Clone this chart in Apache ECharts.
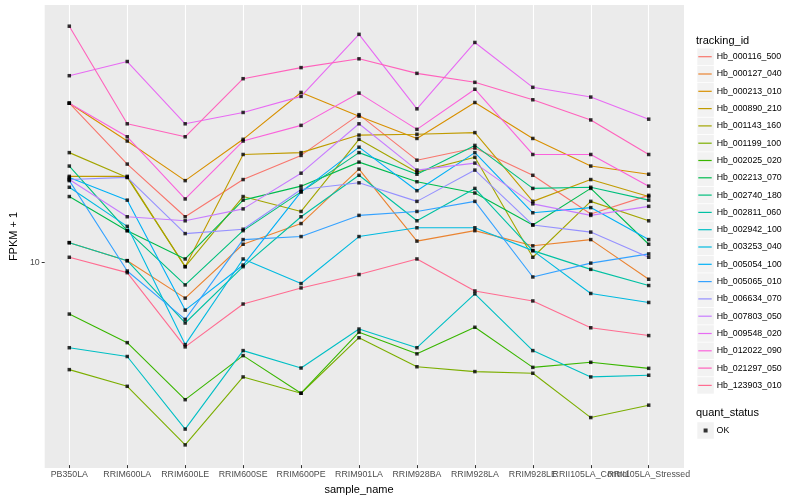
<!DOCTYPE html>
<html><head><meta charset="utf-8">
<script src="https://cdn.jsdelivr.net/npm/echarts@6/dist/echarts.min.js"></script>
<style>html,body{margin:0;padding:0;background:#fff}#c{width:800px;height:500px}</style>
</head><body><div id="c"></div>
<script>
const categories = ['PB350LA','RRIM600LA','RRIM600LE','RRIM600SE','RRIM600PE','RRIM901LA','RRIM928BA','RRIM928LA','RRIM928LE','RRII105LA_Control','RRII105LA_Stressed'];
const trackingIds = ['Hb_000116_500','Hb_000127_040','Hb_000213_010','Hb_000890_210','Hb_001143_160','Hb_001199_100','Hb_002025_020','Hb_002213_070','Hb_002740_180','Hb_002811_060','Hb_002942_100','Hb_003253_040','Hb_005054_100','Hb_005065_010','Hb_006634_070','Hb_007803_050','Hb_009548_020','Hb_012022_090','Hb_021297_050','Hb_123903_010'];
const palette = ['#F8766D','#EA8331','#D89000','#C09B00','#A3A500','#7CAE00','#39B600','#00BB4E','#00BF7D','#00C1A3','#00BFC4','#00BAE0','#00B0F6','#35A2FF','#9590FF','#C77CFF','#E76BF3','#FA62DB','#FF62BC','#FF6C91'];
const yTickValues = [10];

const Hb_000116_500 = [24.9, 17.5, 12.9, 16.0, 18.4, 23.3, 17.9, 19.2, 16.4, 13.1, 14.6];
const Hb_000127_040 = [11.1, 10.0, 8.05, 11.0, 12.4, 17.0, 11.2, 11.9, 10.9, 11.3, 8.98];
const Hb_000213_010 = [24.9, 20.0, 15.9, 20.2, 26.5, 23.1, 20.3, 25.0, 20.3, 17.3, 16.5];
const Hb_000890_210 = [16.3, 16.3, 9.66, 18.5, 18.7, 20.7, 20.8, 21.0, 14.1, 16.0, 14.5];
const Hb_001143_160 = [18.7, 16.2, 9.66, 14.5, 13.3, 20.2, 16.7, 18.2, 10.2, 14.1, 12.6];
const Hb_001199_100 = [5.32, 4.83, 3.44, 5.10, 4.64, 6.40, 5.41, 5.26, 5.21, 4.03, 4.33];
const Hb_002025_020 = [7.34, 6.22, 4.47, 5.77, 4.64, 6.61, 5.83, 6.80, 5.39, 5.55, 5.36];
const Hb_002213_070 = [14.5, 11.9, 10.1, 14.2, 15.4, 17.7, 15.8, 14.8, 12.3, 15.2, 11.0];
const Hb_002740_180 = [17.3, 11.9, 8.69, 11.9, 14.9, 18.7, 16.5, 19.5, 15.2, 15.3, 14.2];
const Hb_002811_060 = [11.1, 10.0, 6.97, 9.66, 12.9, 16.4, 12.6, 15.2, 10.6, 9.51, 8.66];
const Hb_002942_100 = [6.04, 5.74, 3.77, 5.94, 5.37, 6.73, 6.04, 8.25, 5.94, 5.10, 5.15];
const Hb_003253_040 = [15.3, 12.2, 6.15, 10.1, 8.76, 11.5, 12.1, 12.1, 10.6, 8.27, 7.85];
const Hb_005054_100 = [16.2, 14.2, 7.51, 9.75, 14.9, 19.3, 15.0, 18.7, 13.2, 13.6, 11.3];
const Hb_005065_010 = [15.9, 9.42, 7.12, 11.3, 11.5, 13.0, 13.3, 14.1, 9.10, 9.86, 10.4];
const Hb_006634_070 = [16.0, 16.2, 11.7, 12.0, 15.1, 15.7, 14.1, 16.9, 12.3, 11.8, 10.2];
const Hb_007803_050 = [16.0, 12.9, 12.6, 13.5, 16.6, 22.1, 16.9, 17.6, 13.9, 13.0, 13.7];
const Hb_009548_020 = [29.2, 31.7, 22.1, 23.6, 25.9, 37.1, 24.1, 35.4, 27.3, 25.8, 22.7];
const Hb_012022_090 = [24.9, 20.5, 14.3, 20.0, 21.9, 26.4, 21.4, 27.0, 18.5, 18.5, 15.4];
const Hb_021297_050 = [38.9, 22.1, 20.5, 28.7, 30.6, 32.2, 29.6, 28.1, 25.4, 22.6, 18.5];
const Hb_123903_010 = [10.2, 9.33, 6.07, 7.78, 8.54, 9.23, 10.1, 8.39, 7.92, 6.78, 6.48];

const seriesValues = [Hb_000116_500, Hb_000127_040, Hb_000213_010, Hb_000890_210, Hb_001143_160, Hb_001199_100, Hb_002025_020, Hb_002213_070, Hb_002740_180, Hb_002811_060, Hb_002942_100, Hb_003253_040, Hb_005054_100, Hb_005065_010, Hb_006634_070, Hb_007803_050, Hb_009548_020, Hb_012022_090, Hb_021297_050, Hb_123903_010];

const FONT = '"Liberation Sans", Arial, Helvetica, sans-serif';
const Y_MIN = 3.06, Y_MAX = 43.98;
const allIdx = categories.map((c, i) => i);
const labelIdxEven = allIdx.filter(i => i % 2 === 0);
const labelIdxOdd = allIdx.filter(i => i % 2 === 1);

const chart = echarts.init(document.getElementById('c'), null, {renderer: 'canvas'});

const lineSeries = trackingIds.map((id, k) => ({
  name: id,
  type: 'line',
  xAxisIndex: 1, yAxisIndex: 1,
  data: seriesValues[k].map((v, i) => [i, v]),
  symbol: 'none', showSymbol: false,
  color: palette[k],
  lineStyle: {width: 1.1, color: palette[k]},
  emphasis: {disabled: true},
  animation: false, z: 2
}));

const pointData = [];
seriesValues.forEach(arr => arr.forEach((v, i) => pointData.push([i, v])));

const keyRects = [];
const legendTop = 48.05, itemH = 17.3;
trackingIds.forEach((id, i) => {
  keyRects.push({type: 'rect', z: 1, silent: true,
    shape: {x: 697.3, y: legendTop + i * itemH + 0.4, width: 16.5, height: 16.5},
    style: {fill: '#F2F2F2'}});
});
keyRects.push({type: 'rect', z: 1, silent: true,
  shape: {x: 697.3, y: 421.85 + 0.4, width: 16.5, height: 16.5}, style: {fill: '#F2F2F2'}});

const xLabelStyle = {formatter: v => categories[v] || '', color: '#4D4D4D', fontSize: 8.8, margin: 5, fontFamily: FONT, hideOverlap: false, showMinLabel: true, showMaxLabel: true};

const option = {
  backgroundColor: '#fff',
  animation: false,
  textStyle: {fontFamily: FONT},
  grid: [
    {left: 35, right: 116, top: 5, bottom: 32, show: true, backgroundColor: '#EBEBEB', borderWidth: 0, containLabel: false},
    {left: 69.3, right: 151.3, top: 5, bottom: 32, show: false, containLabel: false}
  ],
  xAxis: [
    {gridIndex: 0, type: 'value', min: 0, max: 1, show: false},
    {gridIndex: 1, type: 'value', min: 0, max: 10, interval: 1, position: 'bottom',
      axisLine: {show: false},
      axisTick: {show: true, length: 3, lineStyle: {color: '#333333', width: 1}},
      axisLabel: Object.assign({}, xLabelStyle, {customValues: labelIdxEven}),
      splitLine: {show: true, lineStyle: {color: '#FFFFFF', width: 1.1}},
      name: 'sample_name', nameLocation: 'middle', nameGap: 15,
      nameTextStyle: {color: '#000', fontSize: 11, fontFamily: FONT}
    },
    {gridIndex: 1, type: 'value', min: 0, max: 10, interval: 1, position: 'bottom', offset: 0,
      axisLine: {show: false}, axisTick: {show: false}, splitLine: {show: false},
      axisLabel: Object.assign({}, xLabelStyle, {customValues: labelIdxOdd})
    }
  ],
  yAxis: [
    {gridIndex: 0, type: 'log', logBase: 10, min: Y_MIN, max: Y_MAX,
      axisLine: {show: false},
      axisTick: {show: true, length: 3, lineStyle: {color: '#333333', width: 1}, customValues: yTickValues},
      axisLabel: {customValues: yTickValues, formatter: v => String(Math.round(v)), color: '#4D4D4D', fontSize: 8.8, margin: 5, fontFamily: FONT, showMinLabel: false, showMaxLabel: false},
      splitLine: {show: true, showMinLine: false, showMaxLine: false, lineStyle: {color: '#FFFFFF', width: 1.1}},
      name: 'FPKM + 1', nameLocation: 'middle', nameGap: 15,
      nameTextStyle: {color: '#000', fontSize: 11, fontFamily: FONT}
    },
    {gridIndex: 1, type: 'log', logBase: 10, min: Y_MIN, max: Y_MAX, show: false, splitLine: {show: false}}
  ],
  legend: [
    {data: trackingIds, orient: 'vertical', left: 698.3, top: legendTop, padding: 0,
      itemWidth: 13.4, itemHeight: 1.2, itemGap: 0, icon: 'rect', selectedMode: false,
      itemStyle: {borderWidth: 0},
      textStyle: {fontSize: 8.8, color: '#000', lineHeight: itemH, fontFamily: FONT}},
    {data: ['OK'], orient: 'vertical', left: 703.6, top: 421.85, padding: 0,
      itemWidth: 4, itemHeight: 4, itemGap: 0, icon: 'rect', selectedMode: false,
      itemStyle: {borderWidth: 0, color: '#000'},
      textStyle: {fontSize: 8.8, color: '#000', lineHeight: itemH, fontFamily: FONT, padding: [0, 0, 0, 4]}}
  ],
  graphic: {elements: keyRects.concat([
    {type: 'text', z: 5, silent: true, style: {text: 'tracking_id', x: 696, y: 40.7, font: '11px ' + FONT, fill: '#000', align: 'left', verticalAlign: 'middle'}},
    {type: 'text', z: 5, silent: true, style: {text: 'quant_status', x: 696, y: 412.7, font: '11px ' + FONT, fill: '#000', align: 'left', verticalAlign: 'middle'}}
  ])},
  series: lineSeries.concat([{
    name: 'OK', type: 'scatter', xAxisIndex: 1, yAxisIndex: 1,
    data: pointData, symbol: 'rect', symbolSize: 3.5, clip: false,
    itemStyle: {color: '#000'}, emphasis: {disabled: true}, z: 3
  }])
};
chart.setOption(option);
</script>
</body></html>
